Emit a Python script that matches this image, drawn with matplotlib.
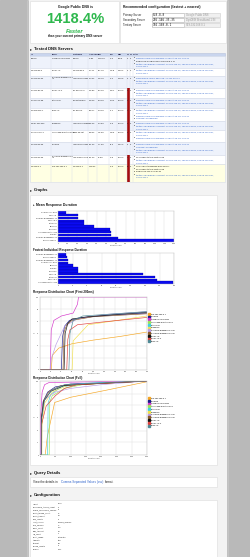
import matplotlib
matplotlib.use("Agg")
import matplotlib.pyplot as plt
from matplotlib.patches import Rectangle
from matplotlib.lines import Line2D

W, H = 250, 557
plt.rcParams["font.family"] = ["Liberation Sans", "DejaVu Sans"]

GREEN = "#2fb84e"
LINK = "#3366cc"

# ---------------- data ----------------
rec_labels = ["Primary Server", "Secondary Server", "Tertiary Server"]
rec_ips = ["8.8.8.8", "216.146.35.35", "192.168.0.1"]
rec_desc = ["Google Public DNS", "DynDNS Broadband-1 IN", "SYS-192.168.0.1"]

tbl_cols = ["IP", "Descr.", "Hostname", "Avg (ms)", "Diff", "Min", "Max", "TO", "NX", "Notes"]
tbl_ip = ["8.8.8.8", "202.138.96.2", "216.146.35.35", "203.115.81.50", "203.123.79.68",
          "218.248.255.1", "208.67.220.220", "2001:470:20::2", "216.146.36.36",
          "216.146.35.36", "192.168.0.1"]
tbl_descr = ["Google Public DNS", "Pacific-IN", "DynDNS Broadband-1\nIN", "Pacific-IN-2",
             "NetcoreIN", "BSNL-IN", "OpenDNS", "Hurricane Electric IPv6", "DynDNS",
             "DynDNS Broadband-2\nIN", "SYS-192.168.0.1"]
tbl_host = ["8.8.8.8", "202.138.96.2", "resolver1.dyndns", "ns1.pacific.in", "ns2.netcore.in",
            "ns1.bsnl.in", "resolver2.opendns", "ordns.he.net", "resolver2.dyndns",
            "res2.dyndns.com", "192.168.0.1"]
tbl_avg = ["78.80", "207.11", "210.02", "265.83", "269.40", "369.17", "535.23", "548.02",
           "551.33", "621.20", "1196.52"]
tbl_diff = ["1418.4%", "477.7%", "469.7%", "350.1%", "344.1%", "224.1%", "123.6%",
            "118.3%", "117.0%", "92.6%", ""]
tbl_min = ["14.2", "116.8", "13.4", "136.1", "134.2", "21.1", "28.0", "158.6", "27.2",
           "10.6", "12.0"]
tbl_max = ["839.9", "2390.2", "2510.9", "3500.0", "3500.0", "3500.0", "3500.0", "3500.0",
           "1462.3", "3500.0", "3500.0"]
tbl_to = [0, 0, 0, 3, 2, 1, 2, 3, 0, 1, 17]
tbl_nx = [0, 0, 0, 0, 0, 0, 0, 0, 0, 0, 0]
row_tops = [56, 68, 76, 88, 98, 108, 121, 130, 142, 155, 164, 182]

FB = ("www.facebook.com appears incorrect: 69.171.229.14", LINK)
TW1 = ("twitter.com appears incorrect: 199.59.148.10, 199.59.148.82, 199.59.149.230,", LINK)
TW2 = ("199.59.150.7", LINK)
NXH = ("NXDOMAIN Hijacking", LINK)
tbl_notes = [
    [FB, ("Replica of Google Public DNS [8.8.4.4]", "#111111"), TW1, TW2],
    [TW1, TW2],
    [("www.google.com is hijacked: 74.125.236.52", LINK), TW1, TW2],
    [FB, TW1, TW2],
    [FB, TW1, TW2],
    [TW1, TW2, FB, NXH],
    [FB, TW1, TW2],
    [TW1, TW2, FB],
    [FB, NXH, TW1, TW2],
    [("15 queries to this host failed", "#111111"), TW1, TW2],
    [("The current preferred DNS server.", "#111111"),
     ("22 queries to this host failed", "#111111"),
     ("Replica of 216.146.35.35", "#111111"), TW1, TW2],
]

mean_labels = ["Google Public DNS", "Pacific-IN", "DynDNS Broadband-1 IN", "Pacific-IN-2",
               "NetcoreIN", "BSNL-IN", "OpenDNS", "Hurricane Electric IPv6", "DynDNS",
               "DynDNS Broadband-2 IN", "SYS-192.168.0.1"]
mean_ms = [78.8, 207.1, 210.0, 265.8, 269.4, 369.2, 535.2, 548.0, 551.3, 621.2, 1196.5]

fast_labels = ["DynDNS Broadband-2 IN", "SYS-192.168.0.1", "DynDNS Broadband-1 IN",
               "Google Public DNS", "BSNL-IN", "DynDNS", "OpenDNS", "Pacific-IN",
               "NetcoreIN", "Pacific-IN-2", "Hurricane Electric IPv6"]
fast_ms = [10.6, 12.0, 13.4, 14.2, 21.1, 27.2, 28.0, 116.8, 134.2, 136.1, 158.6]

dist_names = ["SYS-192.168.0.1", "DynDNS", "Google Public DNS", "Hurricane Electric IPv6",
              "NetcoreIN", "OpenDNS", "DynDNS Broadband-1 IN", "DynDNS Broadband-2 IN",
              "Pacific-IN", "Pacific-IN-2", "BSNL-IN"]
dist_colors = ["#f5a623", "#1a1a8c", "#d433c9", "#9be35a", "#3fd0e0", "#f2e04a",
               "#b89be8", "#8b5a2b", "#111111", "#e0403c", "#4f8a96"]

# first 200 ms: (ms, percent)
first_x = [
    [0, 21, 23, 35, 60, 100, 150, 200],
    [0, 40, 42, 46, 55, 80, 130, 200],
    [0, 19, 21, 26, 40, 62, 70, 72, 200],
    [0, 200],
    [0, 200],
    [0, 60, 62, 90, 200],
    [0, 19, 21, 30, 46, 70, 120, 200],
    [0, 43, 45, 50, 60, 100, 200],
    [0, 45, 47, 52, 60, 90, 140, 200],
    [0, 50, 52, 56, 70, 120, 200],
    [0, 54, 56, 62, 80, 200],
]
first_y = [
    [0, 0, 20, 30, 36, 41, 46, 52],
    [0, 0, 45, 60, 68, 72, 75, 78],
    [0, 0, 55, 68, 74, 78, 90, 100, 100],
    [0, 0],
    [0, 0],
    [0, 0, 40, 62, 74],
    [0, 0, 15, 35, 60, 70, 76, 80],
    [0, 0, 52, 62, 68, 73, 77],
    [0, 0, 50, 64, 70, 73, 76, 79],
    [0, 0, 42, 55, 62, 66, 72],
    [0, 0, 50, 68, 74, 80],
]
# full duration: (ms, percent)
full_x = [
    [0, 170, 240, 480, 1000, 2100, 3500],
    [0, 40, 45, 100, 250, 500, 1000, 3500],
    [0, 20, 25, 70, 150, 300, 3500],
    [0, 300, 320, 400, 800, 1500, 3500],
    [0, 250, 265, 350, 700, 1500, 3500],
    [0, 60, 65, 150, 400, 900, 3500],
    [0, 20, 25, 50, 150, 500, 1000, 2000, 3500],
    [0, 43, 48, 120, 300, 700, 3500],
    [0, 45, 50, 130, 350, 800, 3500],
    [0, 50, 55, 200, 500, 800, 1200, 3500],
    [0, 54, 60, 150, 400, 800, 3500],
]
full_y = [
    [0, 0, 25, 71, 78, 87, 99],
    [0, 0, 45, 72, 85, 92, 96, 100],
    [0, 0, 55, 85, 95, 98, 100],
    [0, 0, 72, 80, 90, 96, 100],
    [0, 0, 70, 82, 92, 97, 100],
    [0, 0, 40, 70, 85, 94, 100],
    [0, 0, 15, 60, 75, 85, 90, 95, 100],
    [0, 0, 52, 74, 86, 94, 100],
    [0, 0, 50, 73, 86, 94, 100],
    [0, 0, 42, 66, 80, 90, 95, 100],
    [0, 0, 50, 75, 88, 95, 100],
]

cfg_keys = ["import", "benchmark_thread_count", "enable_censorship_checks",
            "health_thread_count", "health_timeout", "hide_results", "input_source",
            "num_servers", "query_count", "max_timeout", "run_count", "select_mode",
            "template", "timeout", "upload_results", "version"]
cfg_vals = ["none", "2", "0", "40", "3.5", "0", "cached_queries", "10", "250", "3.5",
            "1", "automatic", "html", "2.0", "0", "1.3.1"]


# ---------------- helpers ----------------
def px_axes(fig, x0, y0, x1, y1):
    return fig.add_axes([x0 / W, 1 - y1 / H, (x1 - x0) / W, (y1 - y0) / H])


def box(ax, x0, y0, x1, y1, fc="white", ec="#dcdcdc"):
    ax.add_patch(Rectangle((x0, y0), x1 - x0, y1 - y0, facecolor=fc, edgecolor=ec, lw=0.4))


def section(ax, x, y, title, size=3.0, arrow=True):
    if arrow:
        ax.text(x, y, "\u25b8", fontsize=size, va="center", color="#333333",
                family=["DejaVu Sans"])
        x += 3.5
    ax.text(x, y, title, fontsize=size, va="center", weight="bold", color="#111111")


def style_chart(ax, fs=1.4):
    ax.set_facecolor("white")
    ax.grid(color="#dddddd", lw=0.3)
    ax.set_axisbelow(True)
    ax.tick_params(length=0, labelsize=fs, pad=0.6, colors="#333333")
    for s in ax.spines.values():
        s.set_color("#bbbbbb")
        s.set_linewidth(0.3)


def bar_chart(fig, x0, y0, x1, y1, labels, values, xmax, step):
    ax = px_axes(fig, x0, y0, x1, y1)
    ax.barh(range(len(values)), values, height=0.85, color="#0b0bf2",
            edgecolor="#00008a", lw=0.2)
    ax.set_yticks(range(len(values)))
    ax.set_yticklabels(labels)
    ax.set_xlim(0, xmax)
    ax.set_ylim(len(values) - 0.5, -0.5)
    ax.set_xticks(range(0, xmax + 1, step))
    style_chart(ax)
    ax.grid(axis="y", visible=False)
    ax.set_xlabel("Duration in ms", fontsize=1.3, labelpad=0.8, color="#444444")
    return ax


def dist_chart(fig, x0, y0, x1, y1, xs, ys, xmax, step):
    ax = px_axes(fig, x0, y0, x1, y1)
    for name, col, xv, yv in zip(dist_names, dist_colors, xs, ys):
        ax.plot(xv, yv, color=col, lw=0.45, label=name)
    ax.set_xlim(0, xmax)
    ax.set_ylim(0, 100)
    ax.set_xticks(range(0, xmax + 1, step))
    ax.set_yticks([0, 17, 33, 50, 67, 83, 100])
    style_chart(ax)
    ax.set_xlabel("Duration in ms", fontsize=1.3, labelpad=0.8, color="#444444")
    ax.set_ylabel("%", fontsize=1.4, rotation=0, labelpad=1.5, color="#444444")
    handles = [Line2D([], [], marker="s", ls="none", color=c, markersize=1.6)
               for c in dist_colors]
    ax.legend(handles, dist_names, loc="upper left", bbox_to_anchor=(1.005, 0.79),
              fontsize=1.5, frameon=False, handlelength=0.8, handletextpad=0.5,
              labelspacing=0.62, borderaxespad=0)
    return ax


def main() -> None:
    fig = plt.figure(figsize=(W / 100, H / 100), dpi=100)
    bg = fig.add_axes([0, 0, 1, 1])
    bg.set_xlim(0, W)
    bg.set_ylim(H, 0)
    bg.axis("off")

    # page frame
    bg.add_patch(Rectangle((0, 0), W, H, color="#b9b9b9"))
    bg.add_patch(Rectangle((28, 0), 199, H, color="#f3f3f3"))
    bg.plot([28, 28], [0, H], color="#9a9a9a", lw=0.4)
    bg.plot([227, 227], [0, H], color="#9a9a9a", lw=0.4)

    # top summary boxes
    box(bg, 30, 1, 119, 43)
    box(bg, 120, 1, 226, 43)
    bg.text(75, 7, "Google Public DNS is", fontsize=2.4, weight="bold", ha="center",
            va="center", color="#111111")
    bg.text(75, 19, "1418.4%", fontsize=10.6, weight="bold", ha="center", va="center",
            color=GREEN)
    bg.text(75, 31.5, "Faster", fontsize=4.2, weight="bold", style="italic",
            ha="center", va="center", color=GREEN)
    bg.text(75, 36.5, "than your current primary DNS server", fontsize=2.2,
            weight="bold", ha="center", va="center", color="#111111")
    bg.text(123, 7, "Recommended configuration (fastest + nearest)", fontsize=2.4,
            weight="bold", va="center", color="#111111")
    for i, (lab, ip, ds) in enumerate(zip(rec_labels, rec_ips, rec_desc)):
        y = 15 + 5 * i
        bg.text(123, y, lab, fontsize=2.0, va="center", color="#222222")
        box(bg, 152, y - 2, 184, y + 2, fc="white", ec="#aaaaaa")
        bg.text(153, y, ip, fontsize=2.1, va="center", family="DejaVu Sans Mono",
                color="#111111")
        box(bg, 184, y - 2, 220, y + 2, fc="#f0f0f0", ec="#cccccc")
        bg.text(186, y, ds, fontsize=1.9, va="center", color="#999999")

    # tested servers table
    section(bg, 30, 49, "Tested DNS Servers")
    col_x = [31, 52, 73, 89, 98, 110, 118, 127, 130, 133]
    sep_x = [51, 72, 88, 97, 109, 117, 126.5, 129.7, 132.5]
    box(bg, 30, 53, 225, 56, fc="#c9d5ee", ec="#b6c2dc")
    for cx, name in zip(col_x, tbl_cols):
        bg.text(cx, 54.6, name, fontsize=1.5, weight="bold", va="center", color="#222244")
    for i in range(len(tbl_ip)):
        top, bot = row_tops[i], row_tops[i + 1]
        if i == len(tbl_ip) - 1:
            fc = "#ffffe3"
        elif i % 2 == 0:
            fc = "#eef2fb"
        else:
            fc = "white"
        box(bg, 30, top, 225, bot, fc=fc, ec="#d6dcea")
        if tbl_to[i] > 0:
            bg.add_patch(Rectangle((126.5, top), 3.2, bot - top, color="#a50d0d", lw=0))
        cells = [tbl_ip[i], tbl_descr[i], tbl_host[i], tbl_avg[i], tbl_diff[i],
                 tbl_min[i], tbl_max[i], str(tbl_to[i]), str(tbl_nx[i])]
        for cx, val in zip(col_x, cells):
            bg.text(cx, top + 2.3, val, fontsize=1.55, va="center", color="#1a1a1a",
                    linespacing=1.0)
        for j, (note, col) in enumerate(tbl_notes[i]):
            y = top + 2.2 + 2.9 * j
            if note != "199.59.150.7":
                bg.text(134, y, "\u2022", fontsize=1.8, va="center", color="#222222")
            bg.text(136, y, note, fontsize=1.62, va="center", color=col)
    for sx in sep_x:
        bg.plot([sx, sx], [53, 182], color="#d6dcea", lw=0.3)

    # graphs
    section(bg, 30, 190, "Graphs")
    box(bg, 30, 195, 217, 465)
    section(bg, 33, 205, "Mean Response Duration", size=2.4)
    bar_chart(fig, 58, 211, 174, 242, mean_labels, mean_ms, 1200, 100)
    bg.text(33, 250, "Fastest Individual Response Duration", fontsize=2.2,
            weight="bold", va="center", color="#111111")
    bar_chart(fig, 58, 253, 174, 284, fast_labels, fast_ms, 160, 20)
    bg.text(33, 292, "Response Distribution Chart (First 200ms)", fontsize=2.2,
            weight="bold", va="center", color="#111111")
    dist_chart(fig, 40, 297, 147, 370, first_x, first_y, 200, 20)
    bg.text(33, 378, "Response Distribution Chart (Full)", fontsize=2.2,
            weight="bold", va="center", color="#111111")
    dist_chart(fig, 40, 381, 147, 455, full_x, full_y, 3500, 500)

    # query details
    section(bg, 30, 473, "Query Details")
    box(bg, 30, 477, 217, 487)
    bg.text(33, 482, "View the details in ", fontsize=2.2, va="center", color="#222222")
    bg.text(61, 482, "Comma Separated Values (csv)", fontsize=2.2, va="center", color=LINK)
    bg.text(105, 482, "format.", fontsize=2.2, va="center", color="#222222")

    # configuration
    section(bg, 30, 495, "Configuration")
    box(bg, 30, 500, 217, 560)
    for i, (k, v) in enumerate(zip(cfg_keys, cfg_vals)):
        y = 504 + 3.0 * i
        bg.text(33, y, k, fontsize=1.45, va="center", color="#222222")
        bg.text(58, y, v, fontsize=1.45, va="center", color="#222222")

    fig.savefig("out.png", dpi=100)
    plt.close(fig)


if __name__ == "__main__":
    main()
